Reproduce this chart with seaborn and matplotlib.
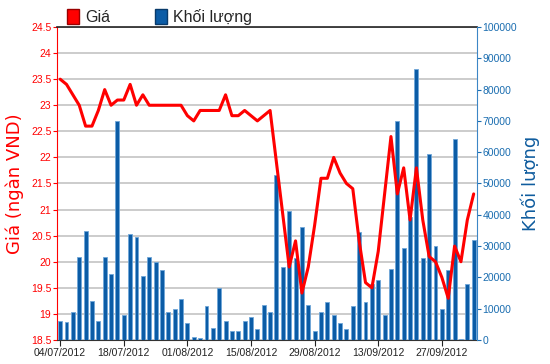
import matplotlib
matplotlib.use("Agg")
import matplotlib.pyplot as plt
import numpy as np
import pandas as pd
import seaborn as sns
from matplotlib.patches import Patch
from matplotlib.ticker import FuncFormatter, MultipleLocator

# trading days 04/07/2012 - 04/10/2012 (03/09 holiday)
days = pd.bdate_range("2012-07-04", "2012-10-04")
days = days[days != pd.Timestamp("2012-09-03")]
dates = [d.strftime("%d/%m/%Y") for d in days]

price = [23.5, 23.4, 23.2, 23.0, 22.6, 22.6, 22.9, 23.3, 23.0, 23.1,
         23.1, 23.4, 23.0, 23.2, 23.0, 23.0, 23.0, 23.0, 23.0, 23.0,
         22.8, 22.7, 22.9, 22.9, 22.9, 22.9, 23.2, 22.8, 22.8, 22.9,
         22.8, 22.7, 22.8, 22.9, 21.9, 20.9, 19.9, 20.4, 19.4, 19.9,
         20.7, 21.6, 21.6, 22.0, 21.7, 21.5, 21.4, 20.4, 19.6, 19.5,
         20.2, 21.3, 22.4, 21.3, 21.8, 20.8, 21.8, 20.8, 20.1, 20.0,
         19.7, 19.3, 20.3, 20.0, 20.8, 21.3]

volume = [6200, 5750, 8950, 26600, 34700, 12600, 6200, 26600, 21100, 69900,
          8100, 33900, 32800, 20600, 26600, 25000, 22200, 9050, 9900, 13100,
          5400, 1100, 640, 10800, 3800, 16600, 6200, 3000, 3000, 6200,
          7450, 3500, 11200, 9050, 52700, 23400, 41300, 26200, 36200, 11200,
          3000, 9050, 12200, 8000, 5500, 3400, 10800, 34400, 12200, 17900,
          19200, 8000, 22700, 69900, 29500, 39200, 86600, 26200, 59400, 30100,
          9900, 22300, 64200, 400, 17900, 31800]

RED = "#FF0000"
BLUE = "#0B5CA6"
BLUE_TXT = "#1A6DB0"
TICK_FONT = "Liberation Sans"

sns.set_style("white")
plt.rcParams["font.family"] = ["DejaVu Sans"]

fig, ax_g = plt.subplots(figsize=(5.5, 3.64), dpi=100)
fig.subplots_adjust(left=0.1036, right=0.867, top=0.9258, bottom=0.066)
ax_v = ax_g.twinx()
ax_p = ax_g.twinx()
ax_g.set_zorder(0)
ax_v.set_zorder(1)
ax_p.set_zorder(2)
ax_v.patch.set_visible(False)
ax_p.patch.set_visible(False)

x = np.arange(len(dates))

# volume bars
sns.barplot(x=x, y=volume, ax=ax_v, color=BLUE, saturation=1, width=0.62,
            edgecolor="#6FA6D8", linewidth=0.6)
ax_v.set_ylim(0, 100000)
ax_v.yaxis.set_major_locator(MultipleLocator(10000))
ax_v.set_ylabel("Khối lượng", color="#0F5C9E", fontsize=13, rotation=90)
ax_v.yaxis.set_label_position("right")
ax_v.yaxis.set_label_coords(1.105, 0.5)

# price line
sns.lineplot(x=x, y=price, ax=ax_p, color=RED, linewidth=2.2)
ax_p.set_ylim(18.5, 24.5)
ax_p.set_yticks([])
ax_p.set_ylabel("")

# grid + left axis
ax_g.set_ylim(18.5, 24.5)
ax_g.yaxis.set_major_locator(MultipleLocator(0.5))
ax_g.yaxis.set_major_formatter(FuncFormatter(lambda v, p: f"{v:g}"))
ax_g.grid(axis="y", color="#CCCCCC", linewidth=1.4)
ax_g.set_ylabel("Giá (ngàn VND)", color=RED, fontsize=13)
ax_g.yaxis.set_label_coords(-0.078, 0.5)

for a in (ax_g, ax_v, ax_p):
    a.set_xlim(-0.5, len(dates) - 0.5)
    for s in a.spines.values():
        s.set_visible(False)

ax_g.spines["left"].set_visible(True)
ax_g.spines["left"].set_color(RED)
ax_g.spines["bottom"].set_visible(True)
ax_g.spines["bottom"].set_color("#333333")
ax_g.spines["top"].set_visible(True)
ax_g.spines["top"].set_color("#222222")
ax_g.spines["top"].set_linewidth(1.2)
ax_v.spines["right"].set_visible(True)
ax_v.spines["right"].set_color("#3C86C6")

ax_g.tick_params(axis="y", colors=RED, labelsize=7.5, length=3, width=0.8, pad=1,
                 left=True, labelfontfamily=TICK_FONT)
ax_v.tick_params(axis="y", colors=BLUE_TXT, labelsize=7.5, length=3, width=0.8, pad=1,
                 right=True, labelfontfamily=TICK_FONT)

ticks = x[::10]
ax_g.set_xticks(ticks)
ax_g.set_xticklabels([dates[i] for i in ticks])
ax_g.tick_params(axis="x", colors="#222222", labelsize=7.5, length=4, width=0.8, pad=2,
                 bottom=True, labelfontfamily=TICK_FONT)
ax_v.tick_params(axis="x", bottom=False, labelbottom=False)
ax_p.tick_params(axis="x", bottom=False, labelbottom=False)
ax_v.set_xlabel("")
ax_p.set_xlabel("")

handles = [Patch(facecolor=RED, edgecolor="#990000"),
           Patch(facecolor=BLUE, edgecolor="#083A6A")]
fig.legend(handles, ["Giá", "Khối lượng"], loc="upper left",
           bbox_to_anchor=(0.095, 1.015), ncol=2, frameon=False,
           handlelength=0.75, handleheight=1.0, handletextpad=0.4,
           columnspacing=2.8, prop={"family": TICK_FONT, "size": 11.5})

fig.savefig("out.png", dpi=100)
